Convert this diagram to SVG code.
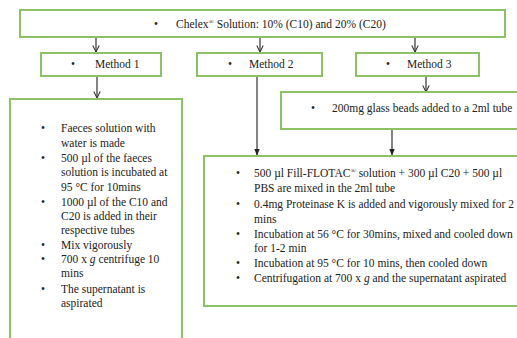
<svg xmlns="http://www.w3.org/2000/svg" width="517" height="338" viewBox="0 0 517 338">
<style>
.box{fill:#fff;stroke:#8cc265;stroke-width:2}
.t{font-family:"Liberation Serif","Times New Roman",serif;font-size:11.5px;fill:#222}
.ln{stroke:#333;stroke-width:1.2;fill:none}
</style>
<defs>
<marker id="open" viewBox="0 0 10 10" refX="9" refY="5" markerWidth="8" markerHeight="8" orient="auto" markerUnits="userSpaceOnUse">
<path d="M1,1 L9,5 L1,9" fill="none" stroke="#333" stroke-width="1.3"/>
</marker>
<marker id="fill" viewBox="0 0 10 10" refX="9" refY="5" markerWidth="7" markerHeight="7" orient="auto" markerUnits="userSpaceOnUse">
<path d="M0,1 L10,5 L0,9 z" fill="#222"/>
</marker>
</defs>
<rect width="517" height="338" fill="#fff"/>
<g id="connectors">
<line class="ln" x1="96" y1="38" x2="96" y2="52" marker-end="url(#open)"/>
<line class="ln" x1="260" y1="38" x2="260" y2="52" marker-end="url(#open)"/>
<line class="ln" x1="415" y1="38" x2="415" y2="52" marker-end="url(#open)"/>
<line class="ln" x1="97" y1="77" x2="97" y2="98" marker-end="url(#open)"/>
<line class="ln" x1="426" y1="77" x2="426" y2="92" marker-end="url(#open)"/>
<line class="ln" x1="257" y1="77" x2="257" y2="155" marker-end="url(#fill)"/>
<line class="ln" x1="392" y1="130" x2="392" y2="155" marker-end="url(#fill)"/>
</g>
<g id="chelex">
<rect class="box" x="20" y="10" width="485" height="27"/>
<text class="t" x="154" y="28">•</text>
<text class="t" x="176" y="28">Chelex<tspan font-size="7" dy="-4">®</tspan><tspan dy="4"> Solution: 10% (C10) and 20% (C20)</tspan></text>
</g>
<g id="method1">
<rect class="box" x="41" y="53" width="120" height="23"/>
<text class="t" x="71" y="68">•</text>
<text class="t" x="95" y="68">Method 1</text>
</g>
<g id="method2">
<rect class="box" x="197" y="53" width="125" height="23"/>
<text class="t" x="228" y="68">•</text>
<text class="t" x="249" y="68">Method 2</text>
</g>
<g id="method3">
<rect class="box" x="356" y="53" width="123" height="23"/>
<text class="t" x="386" y="68">•</text>
<text class="t" x="407" y="68">Method 3</text>
</g>
<g id="method1-steps">
<rect class="box" x="10" y="99" width="172" height="250"/>
<g class="t">
<text x="41" y="132">•</text><text x="61" y="132">Faeces solution with</text>
<text x="61" y="146.5">water is made</text>
<text x="41" y="162">•</text><text x="61" y="162">500 µl of  the faeces</text>
<text x="61" y="176">solution is incubated at</text>
<text x="61" y="190.5">95 °C for 10mins</text>
<text x="41" y="205.5">•</text><text x="61" y="205.5">1000 µl of the C10 and</text>
<text x="61" y="220">C20 is added in their</text>
<text x="61" y="234">respective tubes</text>
<text x="41" y="249">•</text><text x="61" y="249">Mix vigorously</text>
<text x="41" y="263">•</text><text x="61" y="263">700 x <tspan font-style="italic">g</tspan> centrifuge 10</text>
<text x="61" y="277">mins</text>
<text x="41" y="293">•</text><text x="61" y="293">The supernatant is</text>
<text x="61" y="307">aspirated</text>
</g>
</g>
<g id="beads">
<rect class="box" x="281" y="92" width="250" height="37"/>
<text class="t" x="311" y="112">•</text>
<text class="t" x="332" y="112">200mg glass beads added to a 2ml tube</text>
</g>
<g id="method23-steps">
<rect class="box" x="204" y="156" width="330" height="150"/>
<g class="t">
<text x="236" y="177">•</text><text x="254" y="177">500 µl Fill-FLOTAC<tspan font-size="7" dy="-4">®</tspan><tspan dy="4"> solution + 300 µl C20 + 500 µl</tspan></text>
<text x="254" y="192">PBS are mixed in the 2ml tube</text>
<text x="236" y="208">•</text><text x="254" y="208">0.4mg Proteinase K is added and vigorously mixed for 2</text>
<text x="254" y="222.5">mins</text>
<text x="236" y="237.5">•</text><text x="254" y="237.5">Incubation at 56 °C for 30mins, mixed and cooled down</text>
<text x="254" y="252">for 1-2 min</text>
<text x="236" y="267">•</text><text x="254" y="267">Incubation at 95 °C for 10 mins, then cooled down</text>
<text x="236" y="282">•</text><text x="254" y="282">Centrifugation at 700 x <tspan font-style="italic">g</tspan> and the supernatant aspirated</text>
</g>
</g>
</svg>
